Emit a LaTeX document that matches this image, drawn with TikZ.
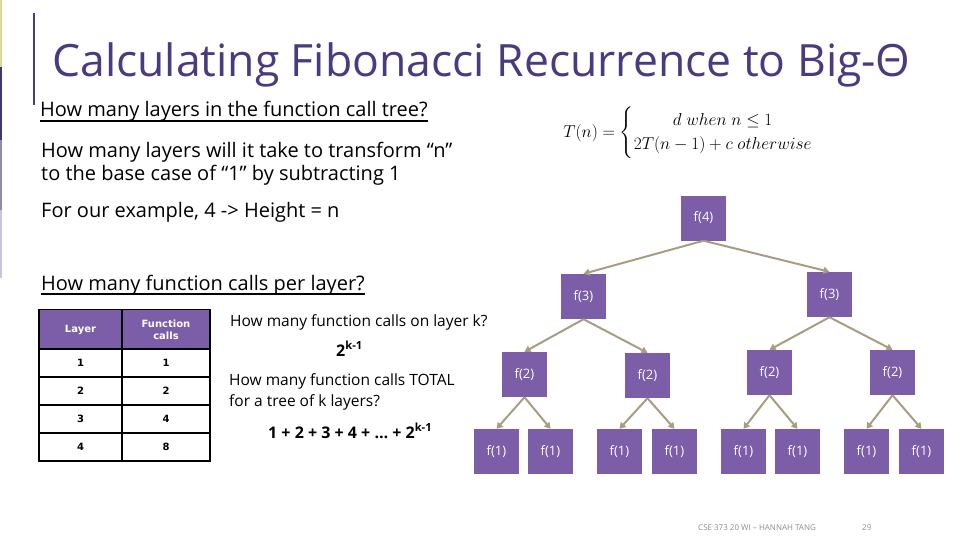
\documentclass[tikz,border=0pt]{standalone}
\usepackage{amsmath}
\usepackage{fontspec}
\setmainfont{Open Sans}
\newfontfamily\tabfont{DejaVu Sans}
\usetikzlibrary{arrows.meta,positioning}
\definecolor{callpurple}{HTML}{7B5EA7}
\definecolor{titlepurple}{HTML}{4A3A80}
\definecolor{edgetan}{HTML}{A69E82}
\definecolor{footgray}{HTML}{8C8C8C}
\tikzset{
  call/.style={fill=callpurple,text=white,minimum width=45pt,minimum height=45pt,inner sep=0pt,font=\fontsize{13}{15}\selectfont},
  calledge/.style={draw=edgetan,line width=2pt,-{Triangle[length=6pt,width=7pt]}},
  txt/.style={anchor=base west,inner sep=0pt,align=left},
  cell/.style={draw=black,line width=1.4pt,minimum height=28pt,inner sep=0pt,font=\tabfont\bfseries\fontsize{10}{12}\selectfont},
}
\begin{document}
\begin{tikzpicture}[x=1pt,y=-1pt]
  \useasboundingbox (0,0) rectangle (960,540);
  \fill[fill=gray!55!yellow!60] (0,0) rectangle (2,67);
  \fill[fill=titlepurple!90!black] (0,67) rectangle (2,140);
  \fill[fill=titlepurple!60] (0,140) rectangle (2,210);
  \fill[fill=titlepurple!30] (0,210) rectangle (2,278);
  \draw[titlepurple,line width=2.5pt] (34,13) -- (34,105);
  \node[txt,text=titlepurple,font=\fontsize{44.5}{50}\selectfont] (title) at (52,77) {Calculating Fibonacci Recurrence to Big-Θ};

  \node[txt,font=\fontsize{20}{24}\selectfont] (layq) at (40,117) {How many layers in the function call tree?};
  \draw[line width=1.2pt] ([yshift=-4pt]layq.base west) -- ([yshift=-4pt]layq.base east);
  \node[txt,font=\fontsize{20}{24}\selectfont] (layt) at (41,181) {How many layers will it take to transform “n”\\to the base case of “1” by subtracting 1};
  \node[txt,font=\fontsize{20}{24}\selectfont] (height) at (41,217) {For our example, 4 -> Height = n};
  \node[txt,font=\fontsize{20}{24}\selectfont] (callq) at (41,290) {How many function calls per layer?};
  \draw[line width=1.2pt] ([yshift=-4pt]callq.base west) -- ([yshift=-4pt]callq.base east);

  \node[anchor=center,font=\fontsize{18}{20}\selectfont] (rec) at (697,133)
    {$T(n)=\begin{cases}\hfil d\ when\ n\le 1\\ 2T(n-1)+c\ otherwise\end{cases}$};

  \node[cell,fill=callpurple,text=white,minimum width=83pt,minimum height=40pt] (h1) at (80.5,329.5) {Layer};
  \node[cell,fill=callpurple,text=white,minimum width=88pt,minimum height=40pt,align=center] (h2) at (166,329.5) {Function\\calls};
  \foreach \l/\c [count=\r] in {1/1,2/2,3/4,4/8}{
    \node[cell,minimum width=83pt] (l\r) at (80.5,{335+28*\r}) {\l};
    \node[cell,minimum width=88pt] (c\r) at (166,{335+28*\r}) {\c};
  }

  \node[txt,font=\fontsize{15.5}{22}\selectfont] (onk) at (230,326) {How many function calls on layer k?};
  \node[txt,font=\bfseries\fontsize{16}{18}\selectfont] (pow) at (336,356) {2\textsuperscript{k-1}};
  \node[txt,font=\fontsize{15.5}{21}\selectfont] (total) at (229,406) {How many function calls TOTAL\\for a tree of k layers?};
  \node[txt,font=\bfseries\fontsize{16}{18}\selectfont] (sum) at (268,438) {1 + 2 + 3 + 4 + … + 2\textsuperscript{k-1}};

  \foreach \i/\x/\y/\n in {1/703.5/218/4,2/583.5/296.5/3,3/829.5/294.5/3,
      4/524.5/374.5/2,5/647.5/375.5/2,6/769.5/372.5/2,7/892.5/372.5/2,
      8/496.5/451.5/1,9/550.5/451.5/1,10/619.5/451.5/1,11/674.5/451.5/1,
      12/743.5/451.5/1,13/797.5/451.5/1,14/866.5/451.5/1,15/921.5/451.5/1}{
    \node[call] (n\i) at (\x,\y) {f(\n)};
  }
  \foreach \i [evaluate=\i as \p using {int(\i/2)}] in {2,...,15}{
    \draw[calledge] (n\p.south) -- (n\i.north);
  }

  \node[txt,text=footgray,font=\fontsize{8}{10}\selectfont] (foot) at (698,530) {CSE 373 20 WI – HANNAH TANG};
  \node[txt,text=footgray,font=\fontsize{8}{10}\selectfont] (page) at (862,530) {29};
\end{tikzpicture}
\end{document}
